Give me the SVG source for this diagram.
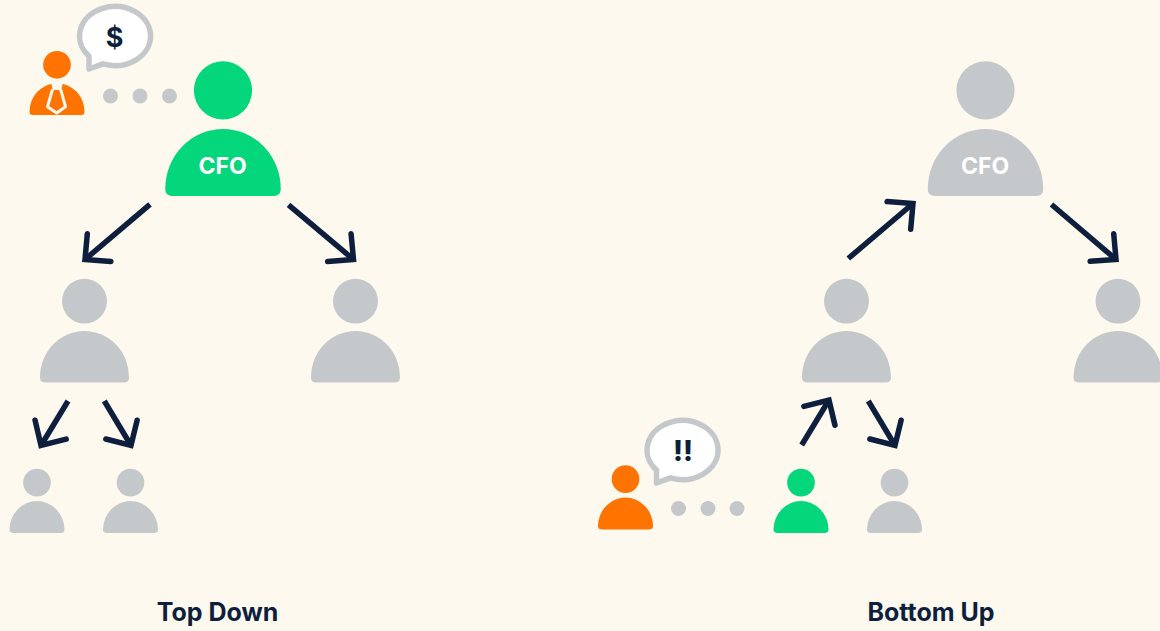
<svg xmlns="http://www.w3.org/2000/svg" width="1160" height="631" viewBox="0 0 1160 631">
<style>
.bg{fill:#fef9ef}
.green{fill:#04d67c}.gray{fill:#c5c8ca}.orange{fill:#ff7300}
.dot{fill:#c5c8ca}
.bubble{fill:#fff;stroke:#c5c8ca;stroke-width:5.5;stroke-linejoin:round}
.arrow{fill:none;stroke:#0d1f3c;stroke-width:5.5;stroke-linecap:butt;marker-end:url(#head)}
text{font-family:Inter,"Liberation Sans",sans-serif;font-weight:700;text-anchor:middle}
.cap{font-size:25px;fill:#0d1f3c}
.cfo{font-size:23px;fill:#fff}
.say{font-size:27px;fill:#0d1f3c}
.say2{font-size:28px;font-weight:800;fill:#0d1f3c}
.tie{fill:none;stroke:#fef9ef;stroke-width:3;stroke-linejoin:round}
.knot{fill:#fef9ef;stroke:#fef9ef;stroke-width:2;stroke-linejoin:round}
</style>
<defs>
<marker id="head" markerUnits="userSpaceOnUse" viewBox="-26 -24 36 48" refX="0" refY="0" markerWidth="36" markerHeight="48" orient="auto">
<path d="M-18.500 -18.200L0 0L-18.500 18.200" fill="none" stroke="#0d1f3c" stroke-width="5.500" stroke-linecap="round" stroke-linejoin="miter"/>
</marker>
<g id="person">
<circle cx="0" cy="-33.5" r="25.2"/>
<path d="M-44 58Q-50 58 -50 52A50 52 0 0 1 50 52Q50 58 44 58Z"/>
</g>
<path id="bub" d="M-26 33L-26 20.1A35.5 29.5 0 1 1 -12 27.8Z"/>
</defs>
<rect class="bg" width="1160" height="631"/>
<g id="connectors">
<path class="arrow" d="M150 204.300L85 259.500"/>
<path class="arrow" d="M288.500 204.800L353.500 259.500"/>
<path class="arrow" d="M68 401L41 445.500"/>
<path class="arrow" d="M104.300 401L131 445.500"/>
<path class="arrow" d="M848.300 258.500L913 203.500"/>
<path class="arrow" d="M1051.500 204.500L1116 259.500"/>
<path class="arrow" d="M801.700 445L829 400"/>
<path class="arrow" d="M868.300 401L895 445.500"/>
</g>
<g id="td-analyst" class="orange">
<use href="#person" transform="translate(57 83.2) scale(.55)"/>
<path class="knot" d="M52 82L62 82L60.500 89L53.500 89Z"/>
<path class="tie" d="M52.500 89.500L47.500 106.700L56.700 113L65.500 106.700L60.700 89.500"/>
</g>
<g id="td-bubble"><use href="#bub" class="bubble" transform="translate(115 36)"/><text class="say" x="114.500" y="47">$</text></g>
<g id="td-dots" class="dot"><circle cx="110.500" cy="96" r="7.500"/><circle cx="140" cy="96" r="7.500"/><circle cx="169.500" cy="96" r="7.500"/></g>
<g id="td-cfo" class="green"><use href="#person" transform="translate(223 129) scale(1.155)"/><text class="cfo" x="222.500" y="174">CFO</text></g>
<g id="td-left" class="gray"><use href="#person" transform="translate(84.500 331) scale(.89)"/></g>
<g id="td-right" class="gray"><use href="#person" transform="translate(355.500 331) scale(.89)"/></g>
<g id="td-ll" class="gray"><use href="#person" transform="translate(37 501) scale(.55)"/></g>
<g id="td-lr" class="gray"><use href="#person" transform="translate(130.500 501) scale(.55)"/></g>
<g id="td-label"><text class="cap" x="217.500" y="620.500">Top Down</text></g>
<g id="bu-cfo" class="gray"><use href="#person" transform="translate(985.500 129) scale(1.155)"/><text class="cfo" x="985" y="174">CFO</text></g>
<g id="bu-left" class="gray"><use href="#person" transform="translate(846.500 331) scale(.89)"/></g>
<g id="bu-right" class="gray"><use href="#person" transform="translate(1118 331) scale(.89)"/></g>
<g id="bu-green" class="green"><use href="#person" transform="translate(801 501) scale(.55)"/></g>
<g id="bu-gray" class="gray"><use href="#person" transform="translate(894.500 501) scale(.55)"/></g>
<g id="bu-employee" class="orange"><use href="#person" transform="translate(625.500 497.500) scale(.55)"/></g>
<g id="bu-bubble"><use href="#bub" class="bubble" transform="translate(682.500 450)"/><text class="say2" x="683" y="460.500">!!</text></g>
<g id="bu-dots" class="dot"><circle cx="678.500" cy="508.500" r="7.500"/><circle cx="708" cy="508.500" r="7.500"/><circle cx="737" cy="508.500" r="7.500"/></g>
<g id="bu-label"><text class="cap" x="931" y="620.500">Bottom Up</text></g>
</svg>
